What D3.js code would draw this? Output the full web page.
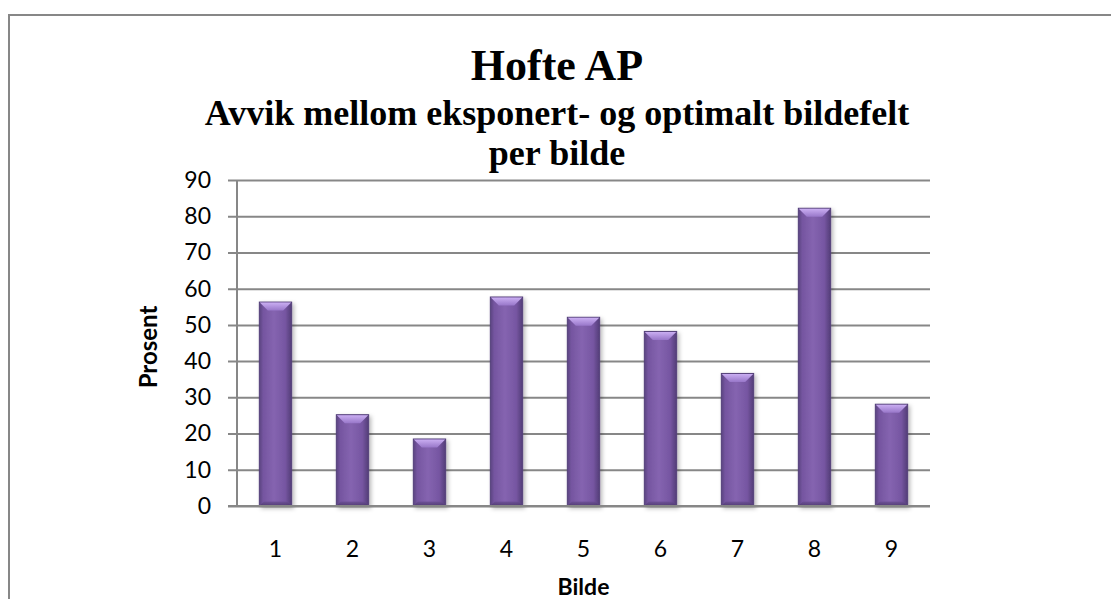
<!DOCTYPE html>
<html>
<head>
<meta charset="utf-8">
<script src="https://cdn.jsdelivr.net/npm/d3@7/dist/d3.min.js"></script>
<style>
  html, body { margin: 0; padding: 0; background: #ffffff; }
  svg { display: block; }
</style>
</head>
<body>
<svg id="chart" width="1111" height="599"></svg>
<script>
// Chart data
const categories = ["1", "2", "3", "4", "5", "6", "7", "8", "9"];
const values = [56.3, 25.2, 18.5, 57.7, 52.1, 48.2, 36.6, 82.2, 28.1];
const yTicks = [0, 10, 20, 30, 40, 50, 60, 70, 80, 90];

const titleLine = "Hofte AP";
const subtitleLines = ["Avvik mellom eksponert- og optimalt bildefelt", "per bilde"];
const yTitle = "Prosent";
const xTitle = "Bilde";

const W = 1111, H = 599;
const plot = { left: 237, right: 930, top: 180, bottom: 506 };
const titleCenter = 557;

const serifFont = '"Liberation Serif", "DejaVu Serif", "Times New Roman", Times, serif';
const sansFont = 'Lato, "Open Sans", sans-serif';

const svg = d3.select("#chart");
const defs = svg.append("defs");

// Bar body: darker at the sides, lighter through the middle
const body = defs.append("linearGradient").attr("id", "barBody")
  .attr("x1", "0%").attr("x2", "100%").attr("y1", "0%").attr("y2", "0%");
[["0%", "#5a4380"], ["12%", "#7555a0"], ["45%", "#8564b0"], ["80%", "#7656a2"], ["100%", "#533d77"]]
  .forEach(([o, c]) => body.append("stop").attr("offset", o).attr("stop-color", c));

// Light bevel on the top edge
const bevel = defs.append("linearGradient").attr("id", "barBevel")
  .attr("x1", "0%").attr("x2", "0%").attr("y1", "0%").attr("y2", "100%");
[["0%", "#caaef2"], ["100%", "#9877c9"]]
  .forEach(([o, c]) => bevel.append("stop").attr("offset", o).attr("stop-color", c));

// Darker bevel along the bottom edge
const foot = defs.append("linearGradient").attr("id", "barFoot")
  .attr("x1", "0%").attr("x2", "0%").attr("y1", "0%").attr("y2", "100%");
[["0%", "#6a4e93"], ["100%", "#4c386d"]]
  .forEach(([o, c]) => foot.append("stop").attr("offset", o).attr("stop-color", c));

const shadow = defs.append("filter").attr("id", "barShadow")
  .attr("x", "-30%").attr("y", "-10%").attr("width", "160%").attr("height", "120%");
shadow.append("feDropShadow")
  .attr("dx", 2).attr("dy", 2).attr("stdDeviation", 2)
  .attr("flood-color", "#000").attr("flood-opacity", 0.28);

// Outer chart frame
svg.append("path")
  .attr("d", `M9,${H + 5} L9,15 L${W + 5},15`)
  .attr("fill", "none").attr("stroke", "#878787").attr("stroke-width", 2);

// Titles
svg.append("text")
  .attr("x", titleCenter).attr("y", 80)
  .attr("text-anchor", "middle")
  .style("font-family", serifFont)
  .style("font-weight", "700")
  .style("font-size", "44px")
  .attr("fill", "#000")
  .text(titleLine);

svg.selectAll("text.subtitle").data(subtitleLines).enter().append("text")
  .attr("class", "subtitle")
  .attr("x", titleCenter).attr("y", (d, i) => 125 + i * 40)
  .attr("text-anchor", "middle")
  .style("font-family", serifFont)
  .style("font-weight", "700")
  .style("font-size", "36px")
  .attr("fill", "#000")
  .text(d => d);

// Scales
const x = d3.scaleBand()
  .domain(categories)
  .range([plot.left, plot.right])
  .paddingInner(0.58)
  .paddingOuter(0.29);

const y = d3.scaleLinear()
  .domain([0, 90])
  .range([plot.bottom, plot.top]);

// Gridlines with left tick marks
const yAxis = d3.axisLeft(y)
  .tickValues(yTicks)
  .tickSize(-(plot.right - plot.left))
  .tickPadding(26)
  .tickFormat(d3.format("d"));

const gy = svg.append("g")
  .attr("transform", `translate(${plot.left},0)`)
  .call(yAxis);
gy.select(".domain").remove();
gy.selectAll(".tick line")
  .attr("x1", -9)
  .attr("stroke", "#878787").attr("stroke-width", 2);
gy.selectAll(".tick text")
  .style("font-family", sansFont)
  .style("font-size", "23px")
  .attr("fill", "#000");

// Vertical value axis line
svg.append("line")
  .attr("x1", plot.left).attr("x2", plot.left)
  .attr("y1", y(90)).attr("y2", y(0))
  .attr("stroke", "#878787").attr("stroke-width", 2);

// Bars
const bars = svg.append("g").selectAll("g.bar")
  .data(categories.map((c, i) => ({ c, v: values[i] })))
  .enter().append("g").attr("class", "bar");

bars.append("rect")
  .attr("x", d => x(d.c))
  .attr("y", d => y(d.v))
  .attr("width", x.bandwidth())
  .attr("height", d => y(0) - y(d.v))
  .attr("fill", "url(#barBody)")
  .attr("stroke", "#54407a").attr("stroke-width", 1)
  .attr("filter", "url(#barShadow)");

const inset = 8;
bars.append("path")
  .attr("d", d => {
    const x0 = x(d.c) + 0.5, x1 = x(d.c) + x.bandwidth() - 0.5, t = y(d.v) + 0.5;
    return `M${x0},${t} L${x1},${t} L${x1 - inset},${t + inset} L${x0 + inset},${t + inset} Z`;
  })
  .attr("fill", "url(#barBevel)");

bars.append("path")
  .attr("d", d => {
    const x0 = x(d.c) + 0.5, x1 = x(d.c) + x.bandwidth() - 0.5, b = y(0) - 0.5;
    return `M${x0 + 4},${b - 4} L${x1 - 4},${b - 4} L${x1},${b} L${x0},${b} Z`;
  })
  .attr("fill", "url(#barFoot)").attr("opacity", 0.8);

// Category axis baseline
svg.append("line")
  .attr("x1", plot.left - 9).attr("x2", plot.right)
  .attr("y1", y(0)).attr("y2", y(0))
  .attr("stroke", "#878787").attr("stroke-width", 2);

// Category labels
svg.append("g").selectAll("text")
  .data(categories).enter().append("text")
  .attr("x", d => x(d) + x.bandwidth() / 2)
  .attr("y", 557)
  .attr("text-anchor", "middle")
  .style("font-family", sansFont)
  .style("font-size", "23px")
  .attr("fill", "#000")
  .text(d => d);

// Axis titles
svg.append("text")
  .attr("transform", `translate(157, ${(plot.top + plot.bottom) / 2 + 4}) rotate(-90)`)
  .attr("text-anchor", "middle")
  .style("font-family", sansFont)
  .style("font-weight", "700")
  .style("font-size", "24px")
  .attr("fill", "#000")
  .text(yTitle);

svg.append("text")
  .attr("x", (plot.left + plot.right) / 2).attr("y", 595)
  .attr("text-anchor", "middle")
  .style("font-family", sansFont)
  .style("font-weight", "700")
  .style("font-size", "23px")
  .attr("fill", "#000")
  .text(xTitle);
</script>
</body>
</html>
